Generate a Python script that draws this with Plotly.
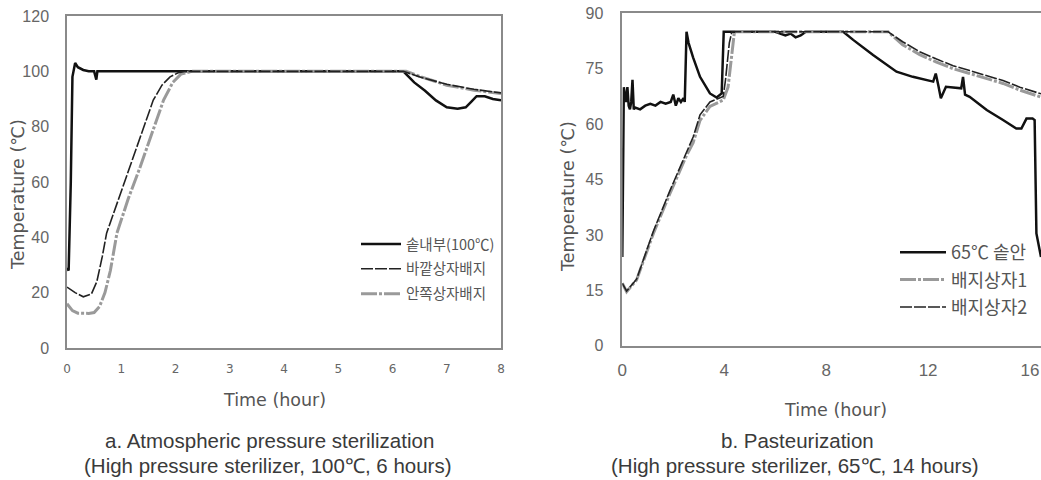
import plotly.graph_objects as go

# ---------------- Chart a: Atmospheric pressure sterilization ----------------
a_inner_t = [0, 0.03, 0.07, 0.1, 0.15, 0.2, 0.3, 0.4, 0.5, 0.54, 0.56, 0.6, 1.0, 1.5, 2.0, 3.0,
             4.0, 5.0, 6.0, 6.2, 6.4, 6.6, 6.8, 7.0, 7.2, 7.35, 7.45, 7.55, 7.7, 7.85, 8.0]
a_inner_v = [29, 28, 60, 98, 103, 101.5, 100.5, 100, 100, 97, 100, 100, 100, 100, 100, 100,
             100, 100, 100, 100, 96, 93, 89.5, 87, 86.5, 87, 89, 91, 91, 90, 89.5]

a_outer_t = [0, 0.15, 0.3, 0.45, 0.55, 0.65, 0.73, 0.95, 1.16, 1.38, 1.59, 1.75, 1.9, 2.05, 2.2,
             3, 4, 5, 6, 6.2, 6.5, 7.0, 7.5, 8.0]
a_outer_v = [22, 20, 18.5, 19.5, 24, 33, 41.5, 54, 65.5, 78, 89.6, 95, 98, 99.5, 100,
             100, 100, 100, 100, 100, 98, 95.3, 93.5, 92.2]

a_in_t = [0, 0.1, 0.2, 0.4, 0.5, 0.6, 0.7, 0.8, 0.92, 1.13, 1.35, 1.57, 1.78, 1.95, 2.1, 2.3,
          3, 4, 5, 6, 6.25, 6.5, 7.0, 7.5, 8.0]
a_in_v = [16, 13.5, 12.6, 12.5, 12.8, 15, 20, 28, 41.5, 54, 65.5, 78, 89.6, 96, 99, 100,
          100, 100, 100, 100, 100, 98.2, 95, 93.2, 92]

a_names = ["솥내부(100℃)", "바깥상자배지", "안쪽상자배지"]
a_xticks = [0, 1, 2, 3, 4, 5, 6, 7, 8]
a_yticks = [0, 20, 40, 60, 80, 100, 120]

# ---------------- Chart b: Pasteurization ----------------
b_pot_t = [0, 0.03, 0.06, 0.1, 0.15, 0.2, 0.25, 0.3, 0.35, 0.4, 0.45, 0.5, 0.7, 0.9, 1.1, 1.3,
           1.5, 1.7, 1.9, 2.0, 2.1, 2.2, 2.3, 2.4, 2.45, 2.52, 2.6, 2.78, 3.05, 3.44, 3.7, 3.9,
           3.98, 4.05, 4.5, 5, 6, 6.4, 6.6, 6.8, 7.0, 7.2, 8, 8.67, 9.06, 9.84, 10.76, 11.4,
           12.2, 12.3, 12.4, 12.5, 12.7, 13.0, 13.3, 13.37, 13.45, 13.63, 14.3, 14.94, 15.46,
           15.66, 15.86, 16.1, 16.18, 16.25, 16.38, 16.43]
b_pot_v = [24, 60, 70, 68, 66, 70, 65, 64, 66, 72, 64, 64.5, 64, 65, 65.5, 65,
           66, 65.5, 66, 68, 65, 67, 66, 67, 66, 85, 82, 78, 72.8, 68.3, 67.2, 68.3,
           85, 85, 85, 85, 85, 84, 84.5, 83.5, 84, 85, 85, 85, 82.8, 78.7, 74.2, 72.8,
           71.5, 73.7, 70.5, 67, 70.1, 69.8, 69.7, 72.8, 68, 67.4, 63.8, 61.1, 58.8,
           58.8, 61.5, 61.5, 61.1, 30.4, 25, 24]

b_box1_t = [0, 0.17, 0.56, 1.22, 1.87, 2.52, 2.78, 3.05, 3.44, 3.96, 4.15, 4.3, 4.4, 5, 8,
            10.43, 11.0, 11.67, 12.33, 12.98, 13.63, 14.3, 14.94, 15.6, 16.43]
b_box1_v = [16.9, 14.6, 17.8, 30.4, 41.2, 51.5, 55, 61, 64.8, 66.5, 70, 80, 85, 85, 85,
            85, 81.5, 78.8, 76.8, 75, 73.7, 72.3, 71, 69.2, 67.3]

b_box2_t = [0, 0.17, 0.56, 1.22, 1.87, 2.52, 2.78, 3.05, 3.44, 3.96, 4.05, 4.2, 4.3, 5, 8,
            10.43, 11.0, 11.67, 12.33, 12.98, 13.63, 14.3, 14.94, 15.6, 16.43]
b_box2_v = [16.9, 14.8, 18, 31, 42, 52.5, 56.5, 62.5, 66, 67.5, 72, 82, 85, 85, 85,
            85, 82.3, 79.6, 77.6, 75.8, 74.5, 73.1, 71.8, 70, 68.2]

b_names = ["65℃ 솥안", "배지상자1", "배지상자2"]
b_xticks = [0, 4, 8, 12, 16]
b_yticks = [0, 15, 30, 45, 60, 75, 90]

caption_a = ["a. Atmospheric pressure sterilization", "(High pressure sterilizer, 100℃, 6 hours)"]
caption_b = ["b. Pasteurization", "(High pressure sterilizer, 65℃, 14 hours)"]

W, H = 1041, 480
def px_x(p): return p / W
def px_y(p): return 1 - p / H

BLACK = dict(color="#111111", width=2.5)
GRAY = dict(color="#9a9a9a", width=3, dash="16px,2px,3px,2px")
DARK = dict(color="#222222", width=1.6, dash="12px,2px")

fig = go.Figure()

# chart a traces
fig.add_trace(go.Scatter(x=a_inner_t, y=a_inner_v, name=a_names[0], mode="lines", line=BLACK,
                         xaxis="x", yaxis="y", legend="legend", legendgroup="a1", legendrank=1))
fig.add_trace(go.Scatter(x=a_in_t, y=a_in_v, name=a_names[2], mode="lines", line=GRAY,
                         xaxis="x", yaxis="y", legend="legend", legendgroup="a3", legendrank=3))
fig.add_trace(go.Scatter(x=a_outer_t, y=a_outer_v, name=a_names[1], mode="lines", line=DARK,
                         xaxis="x", yaxis="y", legend="legend", legendgroup="a2", legendrank=2))

# chart b traces
fig.add_trace(go.Scatter(x=b_pot_t, y=b_pot_v, name=b_names[0], mode="lines", line=BLACK,
                         xaxis="x2", yaxis="y2", legend="legend2", legendgroup="b1", legendrank=1))
fig.add_trace(go.Scatter(x=b_box1_t, y=b_box1_v, name=b_names[1], mode="lines", line=GRAY,
                         xaxis="x2", yaxis="y2", legend="legend2", legendgroup="b2", legendrank=2))
fig.add_trace(go.Scatter(x=b_box2_t, y=b_box2_v, name=b_names[2], mode="lines", line=DARK,
                         xaxis="x2", yaxis="y2", legend="legend2", legendgroup="b3", legendrank=3))

tick_font_y = dict(family="Liberation Sans Narrow, Liberation Sans, Arial", size=16, color="#666666")
axis_common = dict(showline=True, linecolor="#8a8a8a", linewidth=1.5, showgrid=False,
                   zeroline=False, ticks="outside", ticklen=0, automargin=False)

fig.update_layout(
    width=W, height=H,
    margin=dict(l=0, r=0, t=0, b=0, pad=0),
    paper_bgcolor="white", plot_bgcolor="white",
    xaxis=dict(domain=[px_x(67), px_x(501)], range=[0, 8], tickvals=a_xticks,
               tickfont=dict(family="DejaVu Sans, Arial", size=12, color="#666666"),
               ticklabelstandoff=9, mirror=True, anchor="y", **axis_common),
    yaxis=dict(domain=[px_y(348), px_y(16)], range=[0, 120], tickvals=a_yticks,
               tickfont=tick_font_y, ticklabelstandoff=13, mirror=True, anchor="x",
               **axis_common),
    xaxis2=dict(domain=[px_x(622.3), 1.0], range=[0, 16.43], tickvals=b_xticks,
                tickfont=dict(family="Liberation Sans Narrow, Liberation Sans, Arial", size=17, color="#666666"),
                ticklabelstandoff=8, mirror=True, anchor="y2", **axis_common),
    yaxis2=dict(domain=[px_y(345.7), px_y(13.3)], range=[0, 90], tickvals=b_yticks,
                tickfont=tick_font_y, ticklabelstandoff=14, mirror=False, anchor="x2",
                **axis_common),
    legend=dict(x=px_x(356), y=px_y(228), xanchor="left", yanchor="top", itemwidth=40,
                bgcolor="rgba(0,0,0,0)", borderwidth=0, tracegroupgap=3,
                font=dict(family="Noto Sans CJK KR", size=14.5, color="#555555")),
    legend2=dict(x=px_x(895), y=px_y(234), xanchor="left", yanchor="top", itemwidth=46,
                 bgcolor="rgba(0,0,0,0)", borderwidth=0, tracegroupgap=1,
                 font=dict(family="Noto Sans CJK KR", size=18, color="#555555")),
    showlegend=True,
)

title_font = dict(family="DejaVu Sans, Arial", size=17.5, color="#555555")
cap_font = dict(family="Liberation Sans, Arial", size=20.5, color="#3a3a3a")
annos = [
    dict(text="Temperature (℃)", x=px_x(18), y=px_y(195), textangle=-90, font=title_font),
    dict(text="Temperature (℃)", x=px_x(568), y=px_y(197), textangle=-90, font=title_font),
    dict(text="Time (hour)", x=px_x(274), y=px_y(400), font=title_font),
    dict(text="Time (hour)", x=px_x(835), y=px_y(410), font=title_font),
    dict(text=caption_a[0], x=px_x(269), y=px_y(440), font=cap_font),
    dict(text=caption_a[1], x=px_x(268), y=px_y(465.5), font=cap_font),
    dict(text=caption_b[0], x=px_x(797), y=px_y(440), font=cap_font),
    dict(text=caption_b[1], x=px_x(795), y=px_y(465.5), font=cap_font),
]
for a in annos:
    fig.add_annotation(xref="paper", yref="paper", showarrow=False, xanchor="center",
                       yanchor="middle", align="center", **a)

fig.write_html("out.html")
